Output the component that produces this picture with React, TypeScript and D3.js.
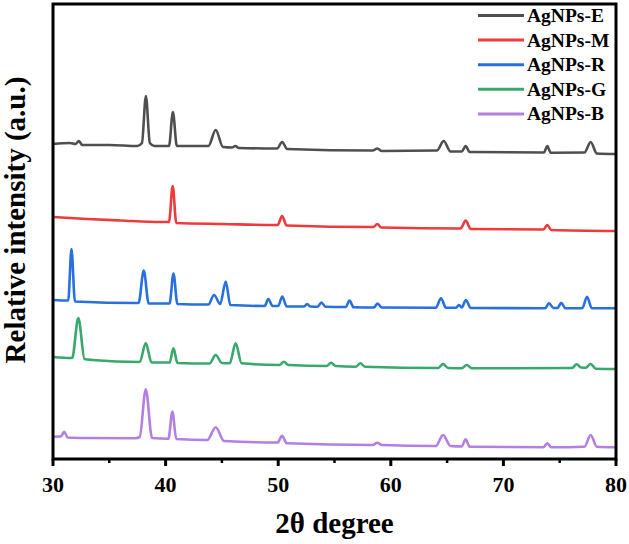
import React from 'react';
import * as d3 from 'd3';

// [2θ, intensity] points (arbitrary units, offset per sample)
const agE: [number, number][] = [
  [30, 315], [31.5, 316], [32.0, 315], [32.3, 318], [32.6, 314], [35, 314], [37.5, 313], [37.9, 316],
  [38.25, 363], [38.6, 316], [39, 313], [40.3, 313], [40.65, 347], [41.0, 313], [43.8, 313], [44.45, 329],
  [45.1, 312], [45.9, 311.5], [46.2, 313], [46.5, 311], [49.9, 310.5], [50.35, 317], [50.8, 310],
  [58.4, 308.5], [58.8, 310.5], [59.2, 308], [64.1, 308.5], [64.7, 318], [65.3, 307.5], [66.3, 307.5],
  [66.65, 313], [67.0, 307], [73.6, 306.5], [73.9, 313], [74.2, 306.3], [77.2, 306.5], [77.75, 317],
  [78.3, 305.5], [80, 305],
];

const agM: [number, number][] = [
  [30, 242], [33, 240], [36, 238.5], [39.56, 237], [40.3, 237], [40.63, 273], [40.95, 236], [45, 235],
  [49.95, 234], [50.35, 243], [50.75, 233.5], [58.45, 232], [58.8, 235], [59.15, 231.5], [66.2, 230.5],
  [66.65, 238.5], [67.1, 230], [73.55, 229.5], [73.9, 234], [74.25, 229], [80, 228],
];

const agR: [number, number][] = [
  [30, 159], [31.35, 158.5], [31.64, 210], [31.95, 157.5], [37.6, 156], [38.06, 188.5], [38.5, 155.5],
  [40.35, 155.5], [40.7, 185.5], [41.05, 155], [43.8, 154.5], [44.3, 164], [44.85, 155], [45.34, 177.5],
  [45.75, 154], [48.8, 153], [49.12, 160], [49.5, 153], [50.0, 153], [50.36, 162.5], [50.75, 152.5],
  [52.3, 152.5], [52.57, 155], [52.85, 152.5], [53.5, 152.3], [53.83, 156.5], [54.2, 152.3], [56.0, 152],
  [56.33, 158.5], [56.7, 151.7], [58.5, 151.5], [58.82, 155.5], [59.2, 151.5], [64.0, 151.3],
  [64.46, 160.7], [64.9, 151.3], [65.8, 151.3], [66.06, 154], [66.3, 151.5], [66.67, 159], [67.1, 151],
  [73.7, 150.7], [74.05, 155.7], [74.45, 151], [74.8, 151], [75.15, 156.3], [75.5, 150.7], [77.0, 150.7],
  [77.43, 162.3], [77.85, 150.7], [80, 150.7],
];

const agG: [number, number][] = [
  [30, 102], [31.7, 101], [32.25, 141], [32.8, 100], [33.5, 99], [37.7, 97], [38.24, 116], [38.75, 96.5],
  [40.35, 96.5], [40.7, 110.7], [41.05, 96], [43.9, 95.5], [44.45, 104], [45.0, 96], [45.7, 95.7],
  [46.22, 115.7], [46.75, 95.7], [50.1, 94], [50.5, 97.3], [50.9, 94], [54.3, 93], [54.7, 96.3],
  [55.1, 93], [56.9, 92.3], [57.3, 95.7], [57.7, 92.3], [64.2, 91], [64.64, 95], [65.1, 91], [66.3, 90.7],
  [66.74, 94], [67.2, 90.7], [76.1, 91], [76.5, 94.7], [76.9, 91.5], [77.3, 91.3], [77.75, 95],
  [78.2, 90.3], [80, 90],
];

const agB: [number, number][] = [
  [30, 22.3], [30.7, 22.5], [31.0, 27.3], [31.3, 21.5], [33, 21], [37.3, 20.7], [37.7, 22], [38.24, 69.7],
  [38.8, 21], [40.25, 20.3], [40.6, 47.3], [40.95, 20], [43.7, 19], [44.45, 31.7], [45.2, 18],
  [49.95, 16.5], [50.35, 23.3], [50.75, 15.7], [58.4, 14], [58.8, 16.3], [59.2, 14], [64.0, 13],
  [64.64, 24], [65.3, 13], [66.3, 12.5], [66.65, 19.7], [67.0, 12.3], [73.55, 11.7], [73.9, 15.7],
  [74.25, 11.7], [77.2, 12.3], [77.75, 24], [78.3, 12.3], [80, 11.7],
];

const seriesNames = ['AgNPs-E', 'AgNPs-M', 'AgNPs-R', 'AgNPs-G', 'AgNPs-B'];
const seriesData = [agE, agM, agR, agG, agB];
const colors = ['#4f4f4f', '#ef3a3c', '#2870df', '#38a86c', '#b37fe2'];
const majorTicks = [30, 40, 50, 60, 70, 80];
const minorTicks = [35, 45, 55, 65, 75];

const W = 629;
const H = 544;
const left = 53;
const right = 616;
const top = 4;
const bottom = 459;
const font = 'Liberation Serif, DejaVu Serif, serif';

export default function App() {
  const x = d3.scaleLinear().domain([30, 80]).range([left, right]);
  const y = d3.scaleLinear().domain([0, 455]).range([bottom, top]);
  const line = d3
    .line<[number, number]>()
    .x(d => x(d[0]))
    .y(d => y(d[1]))
    .curve(d3.curveMonotoneX);

  const txt = { fontFamily: font, fontWeight: 700 } as React.CSSProperties;

  return (
    <svg width={W} height={H} style={{ position: 'absolute', left: 0, top: 0 }}>
      <rect x={0} y={0} width={W} height={H} fill="#fff" />
      {seriesData.map((d, i) => (
        <path key={seriesNames[i]} d={line(d) || ''} fill="none" stroke={colors[i]}
          strokeWidth={2.6} strokeLinejoin="round" />
      ))}
      <rect x={left} y={top} width={right - left} height={bottom - top} fill="none" stroke="#000" strokeWidth={3} />
      {majorTicks.map(t => (
        <g key={t}>
          <line x1={x(t)} x2={x(t)} y1={bottom} y2={bottom + 7} stroke="#000" strokeWidth={3} />
          <text x={x(t)} y={492} textAnchor="middle" fontSize={22} style={txt}>{t}</text>
        </g>
      ))}
      {minorTicks.map(t => (
        <line key={t} x1={x(t)} x2={x(t)} y1={bottom} y2={bottom + 4} stroke="#000" strokeWidth={2.5} />
      ))}
      <text x={(left + right) / 2} y={533} textAnchor="middle" fontSize={29} style={txt}>2θ degree</text>
      <text transform={`translate(25,${(75 + 365) / 2}) rotate(-90)`} textAnchor="middle" fontSize={29}
        style={txt}>Relative intensity (a.u.)</text>
      {seriesNames.map((name, i) => {
        const ly = 15.5 + i * 24.6;
        return (
          <g key={name}>
            <line x1={478} x2={524} y1={ly} y2={ly} stroke={colors[i]} strokeWidth={3} />
            <text x={527} y={ly + 6.5} fontSize={19.5} style={txt}>{name}</text>
          </g>
        );
      })}
    </svg>
  );
}
